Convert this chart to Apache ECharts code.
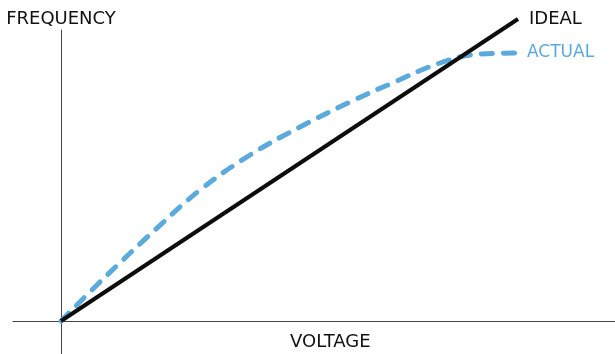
<!DOCTYPE html>
<html>
<head>
<meta charset="utf-8">
<script src="https://cdn.jsdelivr.net/npm/echarts@6/dist/echarts.min.js"></script>
<style>
  html, body { margin: 0; padding: 0; background: #fff; }
  #chart { width: 615px; height: 354px; }
</style>
</head>
<body>
<div id="chart"></div>
<script>
  // voltage / frequency values (arbitrary units)
  var idealX = [0, 457];
  var idealY = [0, 302];
  var actualX = [0, 41, 94, 139, 189, 239, 289, 329, 379, 419, 459];
  var actualY = [0, 41, 91, 131, 166, 194, 219, 237, 258, 267, 268];

  function pairs(xs, ys) {
    var out = [];
    for (var i = 0; i < xs.length; i++) out.push([xs[i], ys[i]]);
    return out;
  }

  var chart = echarts.init(document.getElementById('chart'));
  var font = 'DejaVu Sans';

  chart.setOption({
    animation: false,
    backgroundColor: '#fff',
    grid: { left: 13, right: 0, top: 30, bottom: 0, outerBoundsMode: 'none' },
    // x axis title sits a bit right of the grid centre
    graphic: [{
      type: 'text',
      left: 290,
      top: 333,
      style: { text: 'VOLTAGE', fill: '#111', fontSize: 18, fontFamily: font }
    }],
    xAxis: {
      type: 'value',
      min: -48,
      max: 554,
      axisLine: { onZero: true, lineStyle: { color: '#444', width: 1 } },
      axisTick: { show: false },
      axisLabel: { show: false },
      splitLine: { show: false }
    },
    yAxis: {
      type: 'value',
      min: -33,
      max: 291,
      name: 'FREQUENCY',
      nameLocation: 'end',
      nameGap: 2,
      nameTextStyle: { color: '#111', fontSize: 18, fontFamily: font },
      axisLine: { onZero: true, lineStyle: { color: '#444', width: 1 } },
      axisTick: { show: false },
      axisLabel: { show: false },
      splitLine: { show: false }
    },
    series: [
      {
        name: 'IDEAL',
        type: 'line',
        data: pairs(idealX, idealY),
        clip: false,
        symbol: 'none',
        z: 3,
        lineStyle: { color: '#0d0d0d', width: 4 },
        endLabel: {
          show: true,
          formatter: 'IDEAL',
          distance: 11,
          color: '#111',
          fontSize: 18,
          fontFamily: font
        }
      },
      {
        name: 'ACTUAL',
        type: 'line',
        data: pairs(actualX, actualY),
        clip: false,
        smooth: 0.4,
        symbol: 'none',
        z: 2,
        lineStyle: { color: '#5aaadd', width: 5, type: [11, 11], cap: 'round' },
        endLabel: {
          show: true,
          formatter: 'ACTUAL',
          distance: 7,
          color: '#5aaadd',
          fontSize: 17,
          fontFamily: font
        }
      }
    ]
  });
</script>
</body>
</html>
